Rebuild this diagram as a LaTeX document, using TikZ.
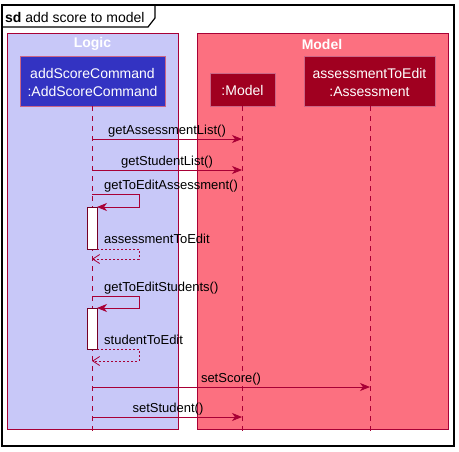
\documentclass[tikz,border=0pt]{standalone}
\usepackage{fontspec}
\setmainfont{Liberation Sans}
\usetikzlibrary{arrows.meta}
\definecolor{lc}{RGB}{168,0,54}
\definecolor{logicfill}{RGB}{200,200,248}
\definecolor{modelfill}{RGB}{252,112,128}
\definecolor{bluepart}{RGB}{51,51,194}
\definecolor{redpart}{RGB}{160,0,32}
\tikzset{
  grp/.style={draw=lc, line width=0.8pt},
  part/.style={draw=lc!60!white, line width=0.8pt, text=white, font=\fontsize{14}{18}\selectfont, align=center, inner sep=0pt},
  life/.style={draw=lc, line width=0.8pt, dash pattern=on 5pt off 5pt},
  msg/.style={draw=lc, line width=0.8pt, -{Stealth[length=10pt,width=8pt,inset=3pt]}},
  ret/.style={draw=lc, line width=0.8pt, dash pattern=on 2pt off 2pt, -{Straight Barb[length=7pt,width=9pt]}},
  lbl/.style={font=\fontsize{13}{15}\selectfont, anchor=base, inner sep=0pt},
  actbox/.style={draw=lc!70!black, fill=white, line width=0.8pt},
  gtitle/.style={font=\fontsize{14}{16}\selectfont\bfseries, text=white, inner sep=0pt}
}
\begin{document}
\begin{tikzpicture}[x=1pt,y=-1pt]
\useasboundingbox (0,0) rectangle (459,451);
% frame
\draw[line width=1.5pt] (2,5) rectangle (454,446);
\draw[line width=1.2pt] (2,27) -- (148,27) -- (155,18) -- (155,5);
\node[anchor=base west, inner sep=0pt, font=\fontsize{14}{16}\selectfont] (title) at (5,22) {\textbf{sd} add score to model};
% groups
\draw[grp, fill=logicfill] (7,33) rectangle (178,429);
\draw[grp, fill=modelfill] (197,33) rectangle (448,429);
\node[gtitle] (tlogic) at (92.5,44) {Logic};
\node[gtitle] (tmodel) at (322,44) {Model};
% participants
\draw[part, fill=bluepart] (20,56) rectangle (165,106);
\node[part, draw=none] (asc) at (92.5,82) {addScoreCommand\\:AddScoreCommand};
\draw[part, fill=redpart] (210,73) rectangle (275,106);
\node[part, draw=none] (mdl) at (242.5,90) {:Model};
\draw[part, fill=redpart] (304,56) rectangle (435,106);
\node[part, draw=none] (ass) at (369.5,82) {assessmentToEdit\\:Assessment};
% lifelines
\coordinate (l1t) at (92,106); \coordinate (l1b) at (92,431);
\coordinate (l2t) at (242,106); \coordinate (l2b) at (242,431);
\coordinate (l3t) at (370,106); \coordinate (l3b) at (370,431);
\draw[life] (l1t) -- (l1b);
\draw[life] (l2t) -- (l2b);
\draw[life] (l3t) -- (l3b);
% activations
\draw[actbox] (87,207) rectangle (97,249);
\draw[actbox] (87,308) rectangle (97,349);
% messages
\coordinate (a1) at (92,139); \coordinate (b1) at (242,139);
\draw[msg] (a1) -- (b1);
\node[lbl] (m1) at (167,134) {getAssessmentList()};
\coordinate (a2) at (92,170); \coordinate (b2) at (242,170);
\draw[msg] (a2) -- (b2);
\node[lbl] (m2) at (167,165) {getStudentList()};
% self call 1
\coordinate (s1a) at (92,194); \coordinate (s1b) at (97,207);
\draw[msg] (s1a) -- (139,194) -- (139,207) -- (s1b);
\node[lbl, anchor=base west] (m3) at (104,189) {getToEditAssessment()};
\coordinate (r1a) at (97,249); \coordinate (r1b) at (92,259);
\draw[ret] (r1a) -- (139,249) -- (139,259) -- (r1b);
\node[lbl, anchor=base west] (m4) at (104,243) {assessmentToEdit};
% self call 2
\coordinate (s2a) at (92,296); \coordinate (s2b) at (97,308);
\draw[msg] (s2a) -- (139,296) -- (139,308) -- (s2b);
\node[lbl, anchor=base west] (m5) at (104,291) {getToEditStudents()};
\coordinate (r2a) at (97,349); \coordinate (r2b) at (92,361);
\draw[ret] (r2a) -- (139,349) -- (139,361) -- (r2b);
\node[lbl, anchor=base west] (m6) at (104,344) {studentToEdit};
% setScore
\coordinate (a7) at (92,387); \coordinate (b7) at (370,387);
\draw[msg] (a7) -- (b7);
\node[lbl] (m7) at (231,382) {setScore()};
% setStudent
\coordinate (a8) at (92,417); \coordinate (b8) at (242,417);
\draw[msg] (a8) -- (b8);
\node[lbl] (m8) at (168,412) {setStudent()};
\end{tikzpicture}
\end{document}
